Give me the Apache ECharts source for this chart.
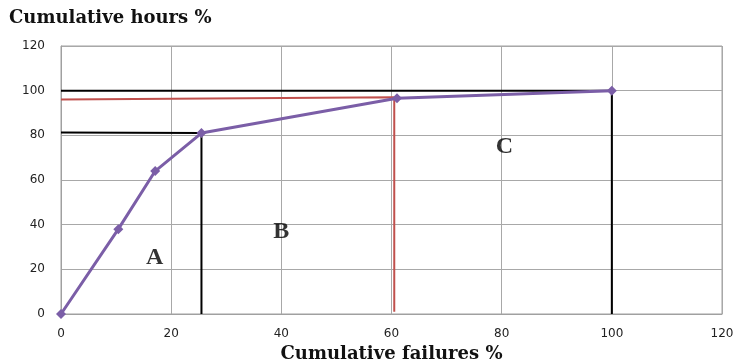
<!DOCTYPE html>
<html><head><meta charset="utf-8">
<script src="https://cdn.jsdelivr.net/npm/echarts@6/dist/echarts.min.js"></script>
<style>html,body{margin:0;padding:0;background:#fff}#c{width:739px;height:361px}</style>
</head><body><div id="c"></div>
<script>
var xTicks = [0, 20, 40, 60, 80, 100, 120];
var yTicks = [0, 20, 40, 60, 80, 100, 120];
var curveX = [0, 10.4, 17.1, 25.5, 61, 100];
var curveY = [0, 38, 64, 81, 96.6, 100];
var blackTopX = [0, 100];
var blackTopY = [100, 100];
var blackAX = [0, 25.5, 25.5];
var blackAY = [81.3, 81, 0];
var blackCX = [100, 100];
var blackCY = [100, 0];
var redX = [0, 60.5, 60.5];
var redY = [96, 97, 1];
var zoneNames = ['A', 'B', 'C'];
var zoneX = [17, 40, 80.5];
var zoneY = [25, 37, 75];

function pairs(xs, ys){ return xs.map(function(x,i){return [x, ys[i]];}); }

var chart = echarts.init(document.getElementById('c'));
var axisCommon = {
  type: 'value', min: 0, max: 120, interval: 20,
  axisLine: {show: true, lineStyle: {color: '#a0a0a0', width: 1}},
  axisTick: {show: false},
  splitLine: {show: true, lineStyle: {color: '#a8a8a8', width: 1}}
};
chart.setOption({
  animation: false,
  title: {
    text: 'Cumulative hours %', left: 4, top: 4,
    textStyle: {fontFamily: 'DejaVu Serif', fontWeight: 'bold', fontSize: 18, color: '#111'}
  },
  grid: {left: 61, right: 17, top: 46, bottom: 47, show: true, borderColor: '#a0a0a0', borderWidth: 1,
    containLabel: false, outerBoundsMode: 'none'},
  xAxis: Object.assign({}, axisCommon, {
    name: 'Cumulative failures %', nameLocation: 'middle', nameGap: 29,
    nameTextStyle: {fontFamily: 'DejaVu Serif', fontWeight: 'bold', fontSize: 18, color: '#111'},
    axisLabel: {color: '#222', fontSize: 12, fontFamily: 'DejaVu Sans', margin: 14,
      formatter: function(v){ return xTicks.indexOf(v) >= 0 ? String(v) : ''; }}
  }),
  yAxis: Object.assign({}, axisCommon, {
    axisLabel: {color: '#222', fontSize: 12, fontFamily: 'DejaVu Sans', margin: 16,
      formatter: function(v){ return yTicks.indexOf(v) >= 0 ? String(v) : ''; }}
  }),
  series: [
    {type: 'line', data: pairs(blackTopX, blackTopY), symbol: 'none', lineStyle: {color: '#000', width: 2}, z: 3},
    {type: 'line', data: pairs(blackAX, blackAY), symbol: 'none', lineStyle: {color: '#000', width: 2}, z: 3},
    {type: 'line', data: pairs(blackCX, blackCY), symbol: 'none', lineStyle: {color: '#000', width: 2}, z: 3},
    {type: 'line', data: pairs(redX, redY), symbol: 'none', lineStyle: {color: '#c0504d', width: 2}, z: 3},
    {type: 'line', data: pairs(curveX, curveY), symbol: 'diamond', symbolSize: 10,
      itemStyle: {color: '#7b5ea7'}, lineStyle: {color: '#7b5ea7', width: 3}, z: 5},
    {type: 'scatter', data: zoneNames.map(function(n,i){return {value: [zoneX[i], zoneY[i]], name: n};}),
      symbolSize: 0,
      label: {show: true, position: 'inside', formatter: '{b}', fontFamily: 'Liberation Serif', fontWeight: 'bold', fontSize: 24, color: '#000'}, z: 6}
  ]
});
</script></body></html>
